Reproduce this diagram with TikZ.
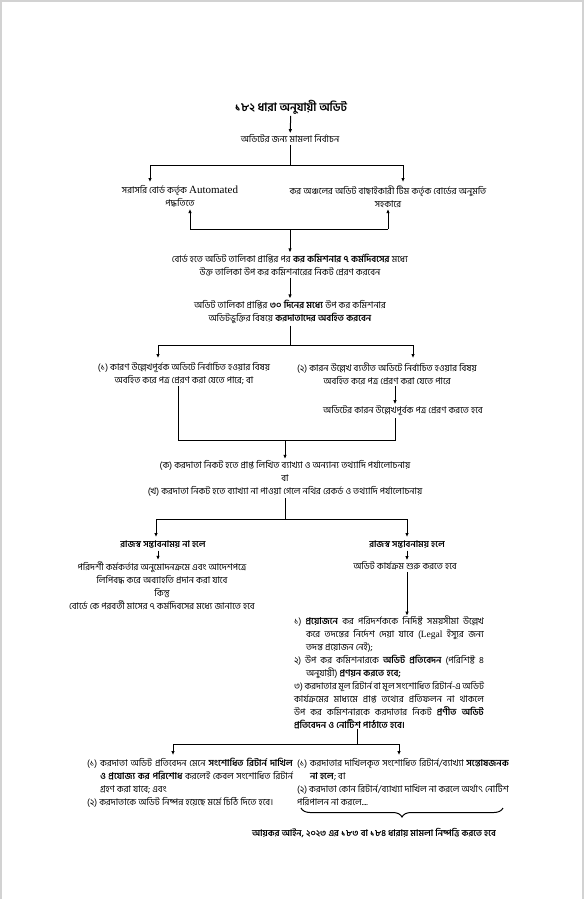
\documentclass[tikz,border=0pt]{standalone}
\usepackage{fontspec}
\newfontfamily\bn[Script=Bengali]{Hind Siliguri}
\newfontfamily\lat{Liberation Serif}
\usepackage{tikz}
\usetikzlibrary{arrows.meta, positioning, decorations.pathreplacing}
\tikzstyle{line} = [draw, line width=1pt]
\tikzstyle{arrow} = [draw, -{Latex[length=4pt,width=3.5pt]}, line width=1pt]
\tikzstyle{txt} = [align=center, inner sep=1.5pt, font=\bn\fontsize{9.2}{13}\selectfont]
\tikzstyle{head} = [txt, font=\bn\bfseries\fontsize{9}{13}\selectfont]
\tikzstyle{para} = [txt, align=justify, inner sep=0pt]

\begin{document}
\begin{tikzpicture}[x=1pt, y=-1pt]

      \useasboundingbox (0,0) rectangle (584,899);
      \draw [gray!35, line width=1.5pt] (1,905) -- (1,1) -- (583,1) -- (583,905);

      %
      % Selection
      %

      \node [head, font=\bn\bfseries\fontsize{11.6}{13}\selectfont] (title) at (291,107) {১৮২ ধারা অনুযায়ী অডিট};
      \node [txt] (sel) at (290,139) {অডিটের জন্য মামলা নির্বাচন};
      \node [txt] (auto) at (180,196.5) {সরাসরি বোর্ড কর্তৃক {\lat\fontsize{11}{13}\selectfont Automated}\\পদ্ধতিতে};
      \node [txt] (team) at (388,196.5) {কর অঞ্চলের অডিট বাছাইকারী টিম কর্তৃক বোর্ডের অনুমতি\\সহকারে};

      \coordinate (split1) at (290,165);
      \coordinate (autoIn) at (150,182);
      \coordinate (teamIn) at (403,182);
      \coordinate (joinL) at (190,229);
      \coordinate (joinR) at (388,229);
      \coordinate (join1) at (290,229);

      \path [arrow] (title) -- (sel);
      \path [line] (sel) -- (split1);
      \path [arrow] (split1) -| (autoIn);
      \path [arrow] (split1) -| (teamIn);
      \path [line] (joinL) -- (joinR);
      \path [arrow] (joinL) -- (joinL |- auto.south);
      \path [arrow] (joinR) -- (joinR |- team.south);

      %
      % Notice
      %

      \node [txt] (list1) at (290,265) {বোর্ড হতে অডিট তালিকা প্রাপ্তির পর \textbf{কর কমিশনার ৭ কর্মদিবসের} মধ্যে\\উক্ত তালিকা উপ কর কমিশনারের নিকট প্রেরণ করবেন};
      \node [txt] (list2) at (290,312) {অডিট তালিকা প্রাপ্তির \textbf{৩০ দিনের মধ্যে} উপ কর কমিশনার\\অডিটভুক্তির বিষয়ে \textbf{করদাতাদের অবহিত করবেন}};
      \node [txt] (opt1) at (184,373.5) {(১) কারণ উল্লেখপূর্বক অডিটে নির্বাচিত হওয়ার বিষয়\\অবহিত করে পত্র প্রেরণ করা যেতে পারে; বা};
      \node [txt] (opt2) at (387,373.5) {(২) কারন উল্লেখ ব্যতীত অডিটে নির্বাচিত হওয়ার বিষয়\\অবহিত করে পত্র প্রেরণ করা যেতে পারে};
      \node [txt] (reason) at (403,411) {অডিটের কারন উল্লেখপূর্বক পত্র প্রেরণ করতে হবে};

      \coordinate (split2) at (290,345);
      \coordinate (opt1In) at (158,358);
      \coordinate (opt2In) at (413,358);
      \coordinate (rX) at (395,0);
      \coordinate (mergeL) at (178,440);
      \coordinate (mergeR) at (395,440);
      \coordinate (merge) at (285,440);

      \path [arrow] (join1) -- (list1);
      \path [arrow] (list1) -- (list2);
      \path [line] (list2) -- (split2);
      \path [arrow] (split2) -| (opt1In);
      \path [arrow] (split2) -| (opt2In);
      \path [arrow] (opt2.south -| rX) -- (reason.north -| rX);
      \path [line] (opt1.south -| mergeL) -- (mergeL) -- (mergeR) -- (reason.south -| mergeR);

      %
      % Review
      %

      \node [txt] (review) at (285,478.5) {(ক) করদাতা নিকট হতে প্রাপ্ত লিখিত ব্যাখ্যা ও অন্যান্য তথ্যাদি পর্যালোচনায়\\বা\\(খ) করদাতা নিকট হতে ব্যাখ্যা না পাওয়া গেলে নথির রেকর্ড ও তথ্যাদি পর্যালোচনায়};
      \node [head] (norev) at (163,545) {রাজস্ব সম্ভাবনাময় না হলে};
      \node [head] (rev) at (407,545) {রাজস্ব সম্ভাবনাময় হলে};
      \node [txt] (exempt) at (162,585.5) {পরিদর্শী কর্মকর্তার অনুমোদনক্রমে এবং আদেশপত্রে\\লিপিবদ্ধ করে অব্যাহতি প্রদান করা যাবে\\কিন্তু\\বোর্ডে কে পরবর্তী মাসের ৭ কর্মদিবসের মধ্যে জানাতে হবে};
      \node [txt] (start) at (405,566) {অডিট কার্যক্রম শুরু করতে হবে};

      \coordinate (split3) at (285,519);
      \coordinate (norevIn) at (156,537);
      \coordinate (revIn) at (407,537);
      \coordinate (lX) at (158,0);

      \path [arrow] (merge) -- (review);
      \path [line] (review) -- (split3);
      \path [arrow] (split3) -| (norevIn);
      \path [arrow] (split3) -| (revIn);
      \path [arrow] (norev.south -| lX) -- (exempt.north -| lX);
      \path [arrow] (rev.south) -- (rev.south |- start.north);

      %
      % Audit steps
      %

      \node [para, text width=190pt] (steps) at (389,672.5) {%
        \hangindent=12pt\hangafter=1 ১) \textbf{প্রয়োজনে} কর পরিদর্শককে নির্দিষ্ট সময়সীমা উল্লেখ\linebreak করে তদন্তের নির্দেশ দেয়া যাবে ({\lat\fontsize{9.5}{13}\selectfont Legal} ইস্যুর জন্য\linebreak তদন্ত প্রয়োজন নেই);\par
        \hangindent=12pt\hangafter=1 ২) উপ কর কমিশনারকে \textbf{অডিট প্রতিবেদন} (পরিশিষ্ট ৪\linebreak অনুযায়ী) \textbf{প্রণয়ন করতে হবে;}\par
        \hangindent=12pt\hangafter=1 ৩) করদাতার মূল রিটার্ন বা মূল সংশোধিত রিটার্ন-এ অডিট\linebreak কার্যক্রমের মাধ্যমে প্রাপ্ত তথ্যের প্রতিফলন না থাকলে\linebreak উপ কর কমিশনারকে করদাতার নিকট \textbf{প্রণীত অডিট}\linebreak \textbf{প্রতিবেদন ও নোটিশ পাঠাতে হবে।}};

      \coordinate (sX) at (407,0);
      \coordinate (split4) at (357,744);
      \coordinate (doneIn) at (173,755);
      \coordinate (failIn) at (399,755);

      \path [arrow] (start.south -| sX) -- (steps.north -| sX);
      \path [line] (steps.south -| split4) -- (split4);
      \path [arrow] (split4) -| (doneIn);
      \path [arrow] (split4) -| (failIn);

      %
      % Outcome
      %

      \node [para, text width=206pt] (done) at (190,782.5) {%
        \hangindent=13pt\hangafter=1 (১) করদাতা অডিট প্রতিবেদন মেনে \textbf{সংশোধিত রিটার্ন দাখিল}\linebreak \textbf{ও প্রযোজ্য কর পরিশোধ} করলেই কেবল সংশোধিত রিটার্ন\linebreak গ্রহণ করা যাবে; এবং\par
        \hangindent=13pt\hangafter=1 (২) করদাতাকে অডিট নিষ্পন্ন হয়েছে মর্মে চিঠি দিতে হবে।};
      \node [para, text width=212pt] (fail) at (403,782.5) {%
        \hangindent=13pt\hangafter=1 (১) করদাতার দাখিলকৃত সংশোধিত রিটার্ন/ব্যাখ্যা \textbf{সন্তোষজনক}\linebreak \textbf{না হলে}; বা\par
        \hangindent=13pt\hangafter=1 (২) করদাতা কোন রিটার্ন/ব্যাখ্যা দাখিল না করলে অর্থাৎ নোটিশ\linebreak পরিপালন না করলে....};
      \node [head] (final) at (374,833) {আয়কর আইন, ২০২৩ এর ১৮৩ বা ১৮৪ ধারায় মামলা নিষ্পত্তি করতে হবে};

      \coordinate (braceL) at (301,808);
      \coordinate (braceR) at (503,808);
      \path [line, decorate, decoration={brace, amplitude=9pt}] (braceR) -- (braceL);

    \end{tikzpicture}
\end{document}
